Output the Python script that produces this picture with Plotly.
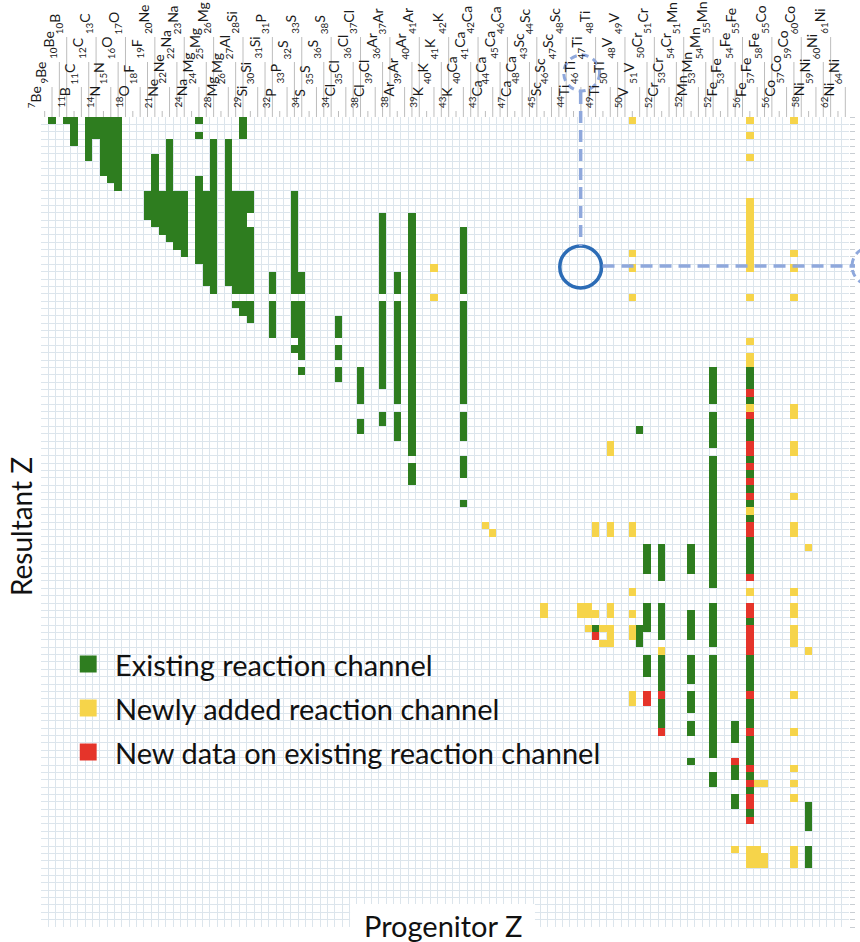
import plotly.graph_objects as go

# Isotope list shared by both axes (progenitor columns, resultant rows)
MASS = [7, 9, 10, 10, 11, 11, 12, 13, 14, 15, 16, 17, 18, 18, 19, 20, 21, 22, 22, 23,
        24, 24, 25, 26, 28, 26, 27, 28, 29, 30, 31, 31, 32, 33, 32, 33, 34, 35, 36, 38,
        34, 35, 36, 37, 38, 39, 36, 37, 38, 39, 40, 41, 39, 40, 41, 42, 43, 40, 41, 42,
        43, 44, 45, 46, 47, 48, 43, 44, 45, 46, 47, 48, 44, 46, 47, 48, 49, 50, 48, 49,
        50, 51, 50, 51, 52, 53, 54, 51, 52, 53, 54, 55, 52, 53, 54, 55, 56, 57, 58, 55,
        56, 57, 59, 60, 58, 59, 60, 61, 62, 64]
SYMBOL = ["Be", "Be", "Be", "B", "B", "C", "C", "C", "N", "N", "O", "O", "O", "F", "F",
          "Ne", "Ne", "Ne", "Na", "Na", "Na", "Mg", "Mg", "Mg", "Mg", "Mg", "Al",
          "Si", "Si", "Si", "Si", "P", "P", "P", "S", "S", "S", "S", "S", "S",
          "Cl", "Cl", "Cl", "Cl", "Cl", "Cl", "Ar", "Ar", "Ar", "Ar", "Ar", "Ar",
          "K", "K", "K", "K", "K", "Ca", "Ca", "Ca", "Ca", "Ca", "Ca", "Ca", "Ca", "Ca",
          "Sc", "Sc", "Sc", "Sc", "Sc", "Sc", "Ti", "Ti", "Ti", "Ti", "Ti", "Ti",
          "V", "V", "V", "V", "Cr", "Cr", "Cr", "Cr", "Cr", "Mn", "Mn", "Mn", "Mn", "Mn",
          "Fe", "Fe", "Fe", "Fe", "Fe", "Fe", "Fe", "Co", "Co", "Co", "Co", "Co",
          "Ni", "Ni", "Ni", "Ni", "Ni", "Ni"]

# Reaction channels as runs: (progenitor column, first resultant row, last resultant row)
EXISTING = [
    (1, 0, 0), (3, 0, 0), (4, 0, 3), (6, 0, 5), (7, 0, 2), (8, 0, 7), (9, 0, 8), (10, 0, 9),
    (14, 10, 13), (15, 5, 14), (16, 10, 15), (17, 3, 16), (18, 10, 17), (19, 10, 18),
    (21, 0, 0), (21, 2, 2), (21, 8, 19), (22, 10, 22), (23, 3, 23),
    (25, 3, 22), (26, 10, 23), (26, 25, 25), (27, 0, 2), (27, 10, 23), (27, 25, 26),
    (28, 10, 12), (28, 15, 23), (28, 25, 27),
    (31, 21, 23), (31, 25, 29),
    (34, 10, 23), (34, 25, 29), (34, 31, 31),
    (35, 21, 23), (35, 25, 32), (35, 34, 34),
    (40, 27, 29), (40, 31, 32), (40, 34, 35),
    (43, 34, 38), (43, 41, 42),
    (46, 13, 23), (46, 25, 36), (46, 40, 41),
    (48, 21, 23), (48, 25, 38), (48, 40, 43),
    (50, 13, 45), (50, 47, 49),
    (57, 15, 23), (57, 25, 38), (57, 40, 43), (57, 46, 48), (57, 52, 52),
    (75, 69, 69),
    (81, 42, 42), (81, 69, 71),
    (82, 58, 61), (82, 66, 69), (82, 73, 75),
    (84, 58, 62), (84, 66, 70), (84, 73, 77), (84, 79, 82),
    (88, 58, 61), (88, 67, 70), (88, 73, 76), (88, 78, 80), (88, 82, 83), (88, 87, 87),
    (91, 34, 38), (91, 40, 44), (91, 46, 63), (91, 66, 71), (91, 73, 86), (91, 89, 90),
    (94, 82, 84), (94, 88, 89), (94, 92, 93),
    (96, 34, 36), (96, 38, 38), (96, 41, 43), (96, 46, 46), (96, 48, 48), (96, 50, 50),
    (96, 52, 52), (96, 54, 54), (96, 57, 61), (96, 68, 68), (96, 73, 77), (96, 79, 82),
    (96, 84, 87), (96, 89, 89), (96, 91, 91), (96, 94, 94),
    (104, 93, 96), (104, 99, 101),
]
NEWLY_ADDED = [
    (53, 20, 20), (53, 24, 24), (60, 55, 55), (61, 56, 56), (68, 66, 67),
    (73, 66, 67), (74, 66, 67), (74, 69, 69), (75, 55, 56), (75, 67, 67),
    (76, 69, 69), (76, 71, 71),
    (77, 44, 45), (77, 55, 56), (77, 66, 67), (77, 69, 71),
    (80, 0, 0), (80, 18, 18), (80, 20, 20), (80, 24, 24), (80, 55, 56), (80, 64, 64),
    (80, 67, 67), (80, 69, 70), (80, 78, 79),
    (84, 72, 72), (94, 99, 99),
    (96, 0, 0), (96, 2, 2), (96, 5, 5), (96, 11, 20), (96, 24, 24), (96, 30, 30),
    (96, 32, 33), (96, 39, 39), (96, 53, 53), (96, 64, 64), (96, 99, 101),
    (97, 90, 90), (97, 99, 101), (98, 90, 90), (98, 100, 101),
    (102, 0, 0), (102, 18, 18), (102, 20, 20), (102, 24, 24), (102, 39, 40), (102, 44, 45),
    (102, 51, 51), (102, 55, 56), (102, 64, 64), (102, 66, 67), (102, 69, 71), (102, 78, 78),
    (102, 83, 83), (102, 88, 88), (102, 90, 90), (102, 92, 92), (102, 99, 101),
    (104, 58, 58), (104, 72, 72),
]
NEW_DATA = [
    (75, 70, 70), (82, 78, 79), (84, 78, 78), (84, 83, 83), (94, 87, 87),
    (96, 37, 37), (96, 40, 40), (96, 44, 45), (96, 47, 47), (96, 49, 49), (96, 51, 51),
    (96, 55, 56), (96, 62, 62), (96, 66, 67), (96, 69, 72), (96, 78, 78), (96, 83, 83),
    (96, 88, 88), (96, 90, 90), (96, 92, 93), (96, 95, 95),
]
LEGEND_TEXT = ["Existing reaction channel", "Newly added reaction channel",
               "New data on existing reaction channel"]

GREEN, YELLOW, RED = "#2E7D1F", "#F6D44A", "#E5342A"
GRID = "#DCE5EC"
FONT = "Lato"

N = len(MASS)
z = [[None] * N for _ in range(N)]
for code, runs in ((1, EXISTING), (2, NEWLY_ADDED), (3, NEW_DATA)):
    for col, r0, r1 in runs:
        for r in range(r0, r1 + 1):
            z[r][col] = code

fig = go.Figure(go.Heatmap(
    z=z, x=list(range(N)), y=list(range(N)),
    zmin=1, zmax=3, showscale=False, hoverinfo="skip", zsmooth=False,
    colorscale=[[0, GREEN], [0.33, GREEN], [0.33, YELLOW], [0.67, YELLOW],
                [0.67, RED], [1, RED]],
))

# page geometry (pixels)
L, T, W, H = 41, 117, 813, 810
FW, FH = 860, 942


def px_x(px):
    return (px - L) / W


def px_y(py):
    return (T + H - py) / H


shapes = []
annotations = []

# staggered isotope labels with leader lines down to the grid
LEVEL_BOTTOM = [110, 86, 61, 36]
for i, (m, s) in enumerate(zip(MASS, SYMBOL)):
    lvl = i % 4
    xc = (i + 0.5) / N
    shapes.append(dict(type="line", xref="paper", yref="paper", x0=xc, x1=xc,
                       y0=1, y1=px_y(LEVEL_BOTTOM[lvl] + 1),
                       line=dict(color="#BDBDBD", width=1)))
    tag = "sup" if lvl == 0 else "sub"
    annotations.append(dict(text=f"<{tag}>{m}</{tag}>{s}", xref="paper", yref="paper",
                            x=xc, y=px_y(LEVEL_BOTTOM[lvl]), xanchor="right",
                            yanchor="bottom", xshift=1, textangle=-90, showarrow=False,
                            font=dict(family=FONT, size=14, color="#1a1a1a")))

# legend
for k, (txt, col) in enumerate(zip(LEGEND_TEXT, [GREEN, YELLOW, RED])):
    cy = 664 + 44 * k
    shapes.append(dict(type="rect", xref="paper", yref="paper",
                       x0=px_x(80), x1=px_x(97), y0=px_y(cy - 8.5), y1=px_y(cy + 8.5),
                       fillcolor=col, line=dict(width=0), layer="above"))
    annotations.append(dict(text=txt, xref="paper", yref="paper", x=px_x(113),
                            y=px_y(cy), xanchor="left", yanchor="middle", showarrow=False,
                            font=dict(family=FONT, size=29, color="#111")))

# highlight circles and dashed guides
DASH_C = "#8FA8DC"


def circle(cx, cy, r, color, width, dash="solid"):
    return dict(type="circle", xref="paper", yref="paper",
                x0=px_x(cx - r), x1=px_x(cx + r), y0=px_y(cy + r), y1=px_y(cy - r),
                line=dict(color=color, width=width, dash=dash), layer="above")


shapes.append(circle(585, 73, 18, DASH_C, 3, "7px,5px"))
shapes.append(circle(584, 267, 21, "#2C6CB6", 3.5))
shapes.append(circle(876, 266, 19, DASH_C, 3, "7px,5px"))
shapes.append(dict(type="line", xref="paper", yref="paper", x0=px_x(584), x1=px_x(584),
                   y0=px_y(92), y1=px_y(246), layer="above",
                   line=dict(color=DASH_C, width=3.5, dash="12px,7px")))
shapes.append(dict(type="line", xref="paper", yref="paper", x0=px_x(606), x1=px_x(860),
                   y0=px_y(266), y1=px_y(266), layer="above",
                   line=dict(color=DASH_C, width=3.5, dash="12px,7px")))

# white plate behind the bottom title
shapes.append(dict(type="rect", xref="paper", yref="paper", x0=px_x(352), x1=px_x(538),
                   y0=px_y(942), y1=px_y(904), fillcolor="white", line=dict(width=0),
                   layer="above"))
annotations.append(dict(text="Progenitor Z", xref="paper", yref="paper", x=px_x(445),
                        y=px_y(925), xanchor="center", yanchor="middle", showarrow=False,
                        font=dict(family=FONT, size=29, color="#111")))
annotations.append(dict(text="Resultant Z", xref="paper", yref="paper", x=px_x(21),
                        y=px_y(527), xanchor="center", yanchor="middle", textangle=-90,
                        showarrow=False, font=dict(family=FONT, size=28, color="#111")))

fig.update_layout(
    width=FW, height=FH, margin=dict(l=L, r=FW - L - W, t=T, b=FH - T - H),
    plot_bgcolor="white", paper_bgcolor="white", showlegend=False,
    shapes=shapes, annotations=annotations,
    xaxis=dict(range=[-0.5, N - 0.5], tickmode="linear", tick0=-0.5, dtick=1,
               showgrid=True, gridcolor=GRID, gridwidth=1, zeroline=False,
               showticklabels=False, ticks="", fixedrange=True),
    yaxis=dict(range=[N - 0.5, -0.5], tickmode="linear", tick0=-0.5, dtick=1,
               showgrid=True, gridcolor=GRID, gridwidth=1, zeroline=False,
               showticklabels=False, side="right", ticks="outside", ticklen=5,
               tickcolor="#C9CED3", tickwidth=1, fixedrange=True),
)

fig.write_html("out.html")
